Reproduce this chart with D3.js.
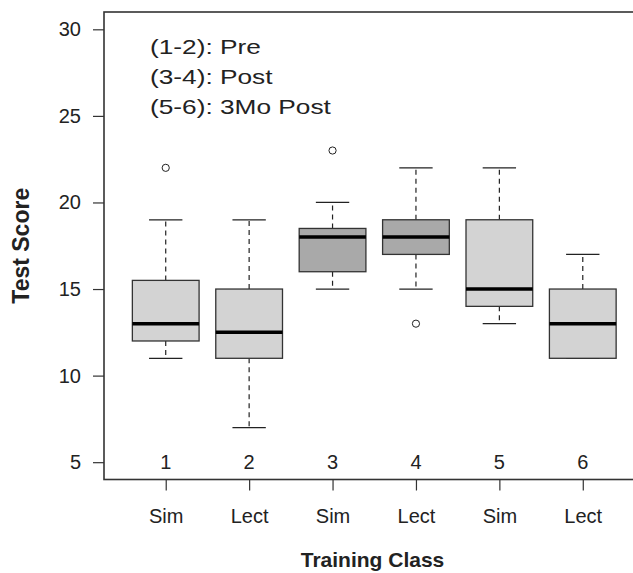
<!DOCTYPE html>
<html>
<head>
<meta charset="utf-8">
<script src="https://cdn.jsdelivr.net/npm/d3@7"></script>
<style>
  html, body { margin: 0; padding: 0; background: #fff; }
  svg { display: block; font-family: "Liberation Sans", Arial, sans-serif; }
</style>
</head>
<body>
<svg id="chart" width="633" height="573"></svg>
<script>
// ---- data ----
const categories = ["Sim", "Lect", "Sim", "Lect", "Sim", "Lect"];
const classNumbers = ["1", "2", "3", "4", "5", "6"];
const whiskerLow = [11, 7, 15, 15, 13, 11];
const q1 = [12, 11, 16, 17, 14, 11];
const median = [13, 12.5, 18, 18, 15, 13];
const q3 = [15.5, 15, 18.5, 19, 19, 15];
const whiskerHigh = [19, 19, 20, 22, 22, 17];
const outliers = [[22], [], [23], [13], [], []];
const period = ["Pre", "Pre", "Post", "Post", "3Mo Post", "3Mo Post"];
const yTicks = [5, 10, 15, 20, 25, 30];
const legendLines = ["(1-2): Pre", "(3-4): Post", "(5-6): 3Mo Post"];

// ---- layout ----
const svg = d3.select("#chart");
const x = d3.scaleLinear().domain([0.26, 6.74]).range([104, 644.5]);
const y = d3.scaleLinear().domain([4, 31]).range([479.5, 12]);
const fill = d3.scaleOrdinal().domain(["Pre", "Post", "3Mo Post"]).range(["#d3d3d3", "#a9a9a9", "#d3d3d3"]);
const ink = "#222";

const boxes = d3.range(categories.length).map(i => ({
  pos: i + 1, lo: whiskerLow[i], q1: q1[i], med: median[i], q3: q3[i], hi: whiskerHigh[i],
  out: outliers[i], period: period[i]
}));
const boxW = 0.8, stapleW = 0.4;

const g = svg.append("g");
const bx = g.selectAll("g.box").data(boxes).join("g").attr("class", "box");

// whiskers (dashed)
bx.append("line")
  .attr("x1", d => x(d.pos)).attr("x2", d => x(d.pos))
  .attr("y1", d => y(d.q3)).attr("y2", d => y(d.hi))
  .attr("stroke", ink).attr("stroke-width", 1.2).attr("stroke-dasharray", "5,4");
bx.append("line")
  .attr("x1", d => x(d.pos)).attr("x2", d => x(d.pos))
  .attr("y1", d => y(d.q1)).attr("y2", d => y(d.lo))
  .attr("stroke", ink).attr("stroke-width", 1.2).attr("stroke-dasharray", "5,4");
// staples
bx.append("line")
  .attr("x1", d => x(d.pos - stapleW / 2)).attr("x2", d => x(d.pos + stapleW / 2))
  .attr("y1", d => y(d.hi)).attr("y2", d => y(d.hi))
  .attr("stroke", ink).attr("stroke-width", 1.2);
bx.append("line")
  .attr("x1", d => x(d.pos - stapleW / 2)).attr("x2", d => x(d.pos + stapleW / 2))
  .attr("y1", d => y(d.lo)).attr("y2", d => y(d.lo))
  .attr("stroke", ink).attr("stroke-width", 1.2);
// boxes
bx.append("rect")
  .attr("x", d => x(d.pos - boxW / 2)).attr("width", d => x(d.pos + boxW / 2) - x(d.pos - boxW / 2))
  .attr("y", d => y(d.q3)).attr("height", d => y(d.q1) - y(d.q3))
  .attr("fill", d => fill(d.period)).attr("stroke", "#333").attr("stroke-width", 1.3);
// medians
bx.append("line")
  .attr("x1", d => x(d.pos - boxW / 2)).attr("x2", d => x(d.pos + boxW / 2))
  .attr("y1", d => y(d.med)).attr("y2", d => y(d.med))
  .attr("stroke", "#000").attr("stroke-width", 3.5);
// outliers
bx.selectAll("circle").data(d => d.out.map(v => ({pos: d.pos, v}))).join("circle")
  .attr("cx", d => x(d.pos)).attr("cy", d => y(d.v)).attr("r", 3.6)
  .attr("fill", "#fff").attr("stroke", ink).attr("stroke-width", 1);

// class numbers inside plot at y = 5
g.selectAll("text.num").data(classNumbers).join("text").attr("class", "num")
  .attr("x", (d, i) => x(i + 1)).attr("y", y(5)).attr("dy", "0.36em")
  .attr("text-anchor", "middle").attr("font-size", 20).attr("fill", ink).text(d => d);

// frame
svg.append("rect").attr("x", x(0.26)).attr("y", y(31))
  .attr("width", x(6.74) - x(0.26)).attr("height", y(4) - y(31))
  .attr("fill", "none").attr("stroke", "#333").attr("stroke-width", 1.6);

// y axis
const yAxis = svg.append("g").attr("transform", `translate(${x(0.26)},0)`)
  .call(d3.axisLeft(y).tickValues(yTicks).tickSize(11).tickPadding(12));
yAxis.select(".domain").remove();
yAxis.selectAll("line").attr("stroke", "#333").attr("stroke-width", 1.2);
yAxis.selectAll("text").attr("font-size", 20).attr("fill", ink).attr("font-family", null);

// x axis
const xAxis = svg.append("g").attr("transform", `translate(0,${y(4)})`)
  .call(d3.axisBottom(x).tickValues(d3.range(1, categories.length + 1))
    .tickFormat(d => categories[d - 1]).tickSize(11).tickPadding(18.5));
xAxis.select(".domain").remove();
xAxis.selectAll("line").attr("stroke", "#333").attr("stroke-width", 1.2);
xAxis.selectAll("text").attr("font-size", 20).attr("fill", ink).attr("font-family", null);

// axis titles
svg.append("text").attr("transform", `translate(28.5,${(y(4) + y(31)) / 2}) rotate(-90)`)
  .attr("text-anchor", "middle").attr("font-size", 23).attr("font-weight", "bold")
  .attr("fill", ink).text("Test Score");
svg.append("text").attr("x", 372.5).attr("y", 567)
  .attr("text-anchor", "middle").attr("font-size", 21).attr("font-weight", "bold")
  .attr("fill", ink).text("Training Class");

// legend text
svg.append("g").selectAll("text").data(legendLines).join("text")
  .attr("transform", (d, i) => `translate(150,${53.5 + i * 30}) scale(1.25,1)`)
  .attr("font-size", 21).attr("fill", ink).text(d => d);
</script>
</body>
</html>
